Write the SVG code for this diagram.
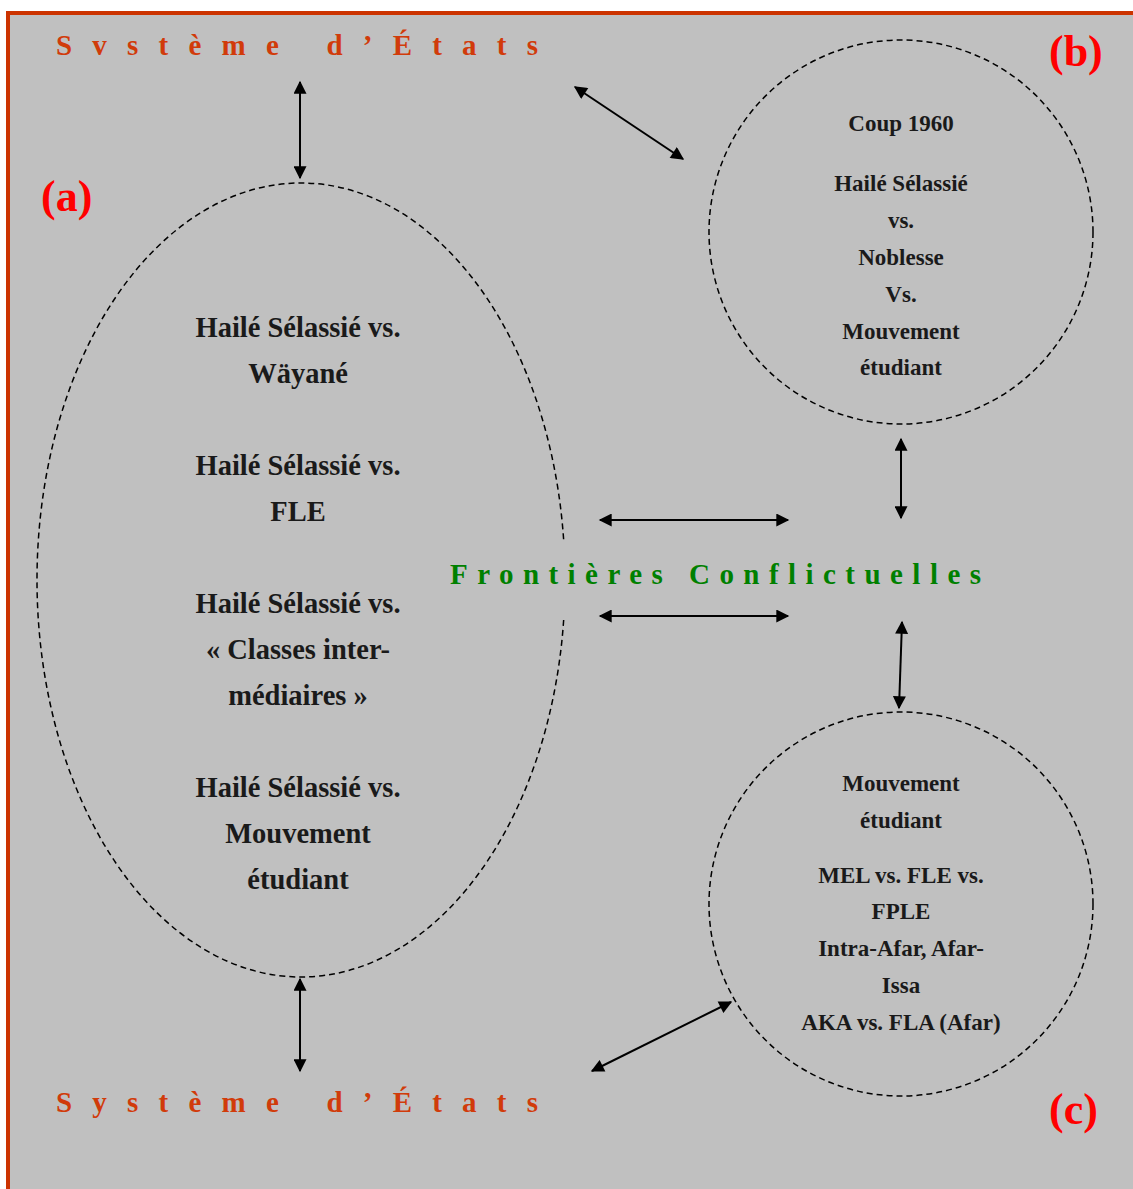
<svg xmlns="http://www.w3.org/2000/svg" width="1133" height="1189" viewBox="0 0 1133 1189">
<defs>
<style>
.bg{fill:#c0c0c0}
.frame{fill:#cc3300}
.sys{font-family:"Liberation Serif","Times New Roman",serif;font-weight:bold;font-size:29px;fill:#d13b0a}
.lab{font-family:"Liberation Serif","Times New Roman",serif;font-weight:bold;font-size:44px;fill:#ff0000}
.front{font-family:"Liberation Serif","Times New Roman",serif;font-weight:bold;font-size:29px;fill:#008000}
.t24{font-family:"Liberation Serif","Times New Roman",serif;font-weight:bold;font-size:28.5px;fill:#1a1a1a;text-anchor:middle}
.t19{font-family:"Liberation Serif","Times New Roman",serif;font-weight:bold;font-size:23px;fill:#1a1a1a;text-anchor:middle}
.dash{fill:none;stroke:#000;stroke-width:1.5;stroke-dasharray:6 4}
.arr{fill:none;stroke:#000;stroke-width:2;marker-start:url(#ah);marker-end:url(#ah)}
</style>
<marker id="ah" viewBox="0 0 10 10" refX="9" refY="5" markerWidth="7" markerHeight="6.5" orient="auto-start-reverse" markerUnits="strokeWidth">
<path d="M0,0 L10,5 L0,10 z" fill="#000"/>
</marker>
</defs>
<rect x="0" y="0" width="1133" height="1189" fill="#ffffff"/>
<rect class="bg" x="10" y="15" width="1123" height="1174"/>
<rect class="frame" x="6" y="11" width="1127" height="4"/>
<rect class="frame" x="6" y="11" width="4" height="1178"/>

<g id="node-a">
<ellipse class="dash" cx="301" cy="580" rx="264" ry="397"/>
<rect class="bg" x="540" y="542" width="40" height="76"/>
<text class="t24" x="298" y="337">Hailé Sélassié vs.</text>
<text class="t24" x="298" y="383">Wäyané</text>
<text class="t24" x="298" y="475">Hailé Sélassié vs.</text>
<text class="t24" x="298" y="521">FLE</text>
<text class="t24" x="298" y="613">Hailé Sélassié vs.</text>
<text class="t24" x="298" y="659">« Classes inter-</text>
<text class="t24" x="298" y="705">médiaires »</text>
<text class="t24" x="298" y="797">Hailé Sélassié vs.</text>
<text class="t24" x="298" y="843">Mouvement</text>
<text class="t24" x="298" y="889">étudiant</text>
</g>
<g id="label-a"><text class="lab" x="41" y="211">(a)</text></g>

<g id="node-b">
<circle class="dash" cx="901" cy="232" r="192"/>
<text class="t19" x="901" y="131">Coup 1960</text>
<text class="t19" x="901" y="191">Hailé Sélassié</text>
<text class="t19" x="901" y="228">vs.</text>
<text class="t19" x="901" y="265">Noblesse</text>
<text class="t19" x="901" y="302">Vs.</text>
<text class="t19" x="901" y="339">Mouvement</text>
<text class="t19" x="901" y="375">étudiant</text>
</g>
<g id="label-b"><text class="lab" x="1049" y="66">(b)</text></g>

<g id="node-c">
<circle class="dash" cx="901" cy="904" r="192"/>
<text class="t19" x="901" y="791">Mouvement</text>
<text class="t19" x="901" y="828">étudiant</text>
<text class="t19" x="901" y="883">MEL vs. FLE vs.</text>
<text class="t19" x="901" y="919">FPLE</text>
<text class="t19" x="901" y="956">Intra-Afar, Afar-</text>
<text class="t19" x="901" y="993">Issa</text>
<text class="t19" x="901" y="1030">AKA vs. FLA (Afar)</text>
</g>
<g id="label-c"><text class="lab" x="1049" y="1124">(c)</text></g>

<g id="node-sys-top"><text class="sys" x="56" y="55" textLength="482" lengthAdjust="spacing">Svstème d’États</text></g>
<g id="node-sys-bottom"><text class="sys" x="56" y="1112" textLength="482" lengthAdjust="spacing">Système d’États</text></g>
<g id="node-front"><text class="front" x="450" y="584" textLength="531" lengthAdjust="spacing">Frontières Conflictuelles</text></g>

<g id="connectors">
<line class="arr" x1="300" y1="82" x2="300" y2="178"/>
<line class="arr" x1="575" y1="87" x2="683" y2="159"/>
<line class="arr" x1="901" y1="439" x2="901" y2="518"/>
<line class="arr" x1="600" y1="520" x2="788" y2="520"/>
<line class="arr" x1="600" y1="616" x2="788" y2="616"/>
<line class="arr" x1="902" y1="622" x2="899" y2="708"/>
<line class="arr" x1="300" y1="979" x2="300" y2="1071"/>
<line class="arr" x1="592" y1="1071" x2="731" y2="1002"/>
</g>
</svg>
